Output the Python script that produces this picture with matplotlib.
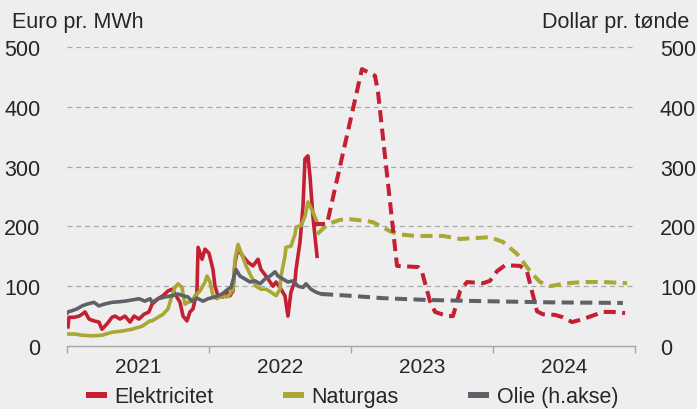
import matplotlib
matplotlib.use("Agg")
import matplotlib.pyplot as plt
import matplotlib.patches as mpatches
from matplotlib.legend_handler import HandlerBase
import numpy as np

# ---------------- data (time in decimal years) ----------------
el_t = [2021.007, 2021.014, 2021.049, 2021.085, 2021.106, 2021.127, 2021.155, 2021.190, 2021.225,
        2021.246, 2021.282, 2021.317, 2021.338, 2021.373, 2021.408, 2021.444, 2021.472, 2021.507,
        2021.542, 2021.577, 2021.599, 2021.641, 2021.676, 2021.711, 2021.739, 2021.761, 2021.796,
        2021.817, 2021.845, 2021.866, 2021.887, 2021.915, 2021.923, 2021.951, 2021.972, 2022.000,
        2022.028, 2022.042, 2022.063, 2022.099, 2022.127, 2022.148, 2022.169, 2022.183, 2022.204,
        2022.239, 2022.275, 2022.310, 2022.345, 2022.366, 2022.401, 2022.430, 2022.451, 2022.472,
        2022.507, 2022.535, 2022.556, 2022.577, 2022.606, 2022.613, 2022.641, 2022.662, 2022.676,
        2022.697, 2022.711, 2022.732, 2022.746, 2022.761]
el_v = [32, 48, 48, 50, 53, 57, 45, 42, 40,
        28, 37, 48, 50, 45, 50, 40, 50, 45,
        53, 57, 70, 79, 84, 92, 95, 87, 73,
        50, 42, 57, 62, 90, 165, 145, 162, 155,
        128, 100, 84, 82, 90, 84, 92, 140, 162,
        150, 140, 134, 145, 128, 117, 107, 100, 107,
        95, 84, 50, 90, 109, 128, 174, 234, 313,
        318, 284, 217, 184, 150]

gas_t = [2021.000, 2021.056, 2021.106, 2021.176, 2021.246, 2021.317, 2021.387, 2021.458, 2021.528,
         2021.585, 2021.599, 2021.641, 2021.676, 2021.711, 2021.739, 2021.761, 2021.782, 2021.810,
         2021.817, 2021.831, 2021.852, 2021.880, 2021.901, 2021.937, 2021.972, 2021.986, 2022.007,
         2022.028, 2022.056, 2022.092, 2022.127, 2022.148, 2022.169, 2022.183, 2022.204, 2022.225,
         2022.261, 2022.296, 2022.331, 2022.366, 2022.401, 2022.437, 2022.472, 2022.500, 2022.507,
         2022.535, 2022.542, 2022.577, 2022.606, 2022.613, 2022.648, 2022.676, 2022.697, 2022.732,
         2022.761]
gas_v = [20, 20, 18, 17, 18, 23, 25, 28, 33,
         42, 42, 48, 53, 62, 84, 98, 104, 98,
         87, 70, 73, 75, 84, 92, 107, 117, 107,
         84, 79, 84, 82, 87, 95, 145, 170, 157,
         134, 117, 100, 95, 95, 90, 84, 95, 117,
         150, 165, 167, 187, 199, 201, 217, 241, 224,
         207]

oil_t = [2021.000, 2021.007, 2021.035, 2021.070, 2021.106, 2021.141, 2021.190, 2021.225, 2021.261,
         2021.317, 2021.366, 2021.408, 2021.458, 2021.507, 2021.549, 2021.585, 2021.599, 2021.641,
         2021.690, 2021.739, 2021.782, 2021.817, 2021.852, 2021.880, 2021.915, 2021.958, 2021.993,
         2022.042, 2022.092, 2022.134, 2022.155, 2022.190, 2022.218, 2022.254, 2022.289, 2022.324,
         2022.359, 2022.394, 2022.430, 2022.465, 2022.486, 2022.521, 2022.556, 2022.592, 2022.627,
         2022.662, 2022.683, 2022.718, 2022.754, 2022.789]
oil_v = [55, 57, 59, 62, 67, 70, 73, 67, 70,
         73, 74, 75, 77, 79, 75, 79, 73, 79,
         82, 84, 87, 84, 82, 75, 80, 75, 79,
         82, 87, 95, 98, 128, 117, 112, 107, 109,
         104, 112, 117, 124, 117, 112, 107, 109, 100,
         98, 104, 95, 90, 87]

# futures / forecasts (dashed)
el_f_t = [2022.732, 2022.831, 2023.077, 2023.169, 2023.190, 2023.324, 2023.472, 2023.500, 2023.556,
          2023.592, 2023.676, 2023.718, 2023.768, 2023.817, 2023.930, 2023.979, 2024.028, 2024.085,
          2024.190, 2024.239, 2024.310, 2024.352, 2024.437, 2024.493, 2024.556, 2024.634, 2024.775,
          2024.845, 2024.930]
el_f_v = [204, 204, 463, 452, 425, 134, 132, 124, 75,
          57, 50, 50, 92, 107, 105, 109, 125, 135,
          134, 125, 58, 53, 52, 48, 40, 45, 57,
          57, 55]

gas_f_t = [2022.761, 2022.838, 2022.923, 2022.993, 2023.113, 2023.155, 2023.275, 2023.331, 2023.450,
           2023.648, 2023.768, 2023.979, 2024.070, 2024.169, 2024.261, 2024.331, 2024.401, 2024.521,
           2024.634, 2024.775, 2024.944]
gas_f_v = [187, 204, 211, 212, 209, 207, 192, 187, 184,
           184, 179, 182, 174, 154, 125, 107, 100, 105,
           107, 107, 105]

oil_f_t = [2022.789, 2022.993, 2023.225, 2023.535, 2023.930, 2024.401, 2024.915]
oil_f_v = [87, 84, 80, 77, 75, 73, 72]

years = [2021, 2022, 2023, 2024]
yticks = [0, 100, 200, 300, 400, 500]
legend_labels = ["Elektricitet", "Naturgas", "Olie (h.akse)"]

# ---------------- style ----------------
BG = "#EEEEEE"
RED = "#C41F33"
GREEN = "#A9A834"
GRAY = "#5E6168"
TXT = "#262626"
FS = 15.5

plt.rcParams["font.family"] = ["Liberation Sans", "DejaVu Sans"]


class BarHandler(HandlerBase):
    def create_artists(self, legend, orig_handle, xdescent, ydescent, width, height, fontsize, trans):
        h = 4.0
        y = height / 2.0 - ydescent - h / 2.0
        p = mpatches.Rectangle((-xdescent, y), width, h,
                               facecolor=orig_handle.get_facecolor(), edgecolor="none",
                               transform=trans)
        return [p]


fig = plt.figure(figsize=(6.97, 4.10), dpi=100, facecolor=BG)
ax = fig.add_axes([67 / 697, 1 - 347 / 410, (635 - 67) / 697, (347 - 48) / 410])
ax.set_facecolor(BG)
ax2 = ax.twinx()

dash = (0, (3.0, 1.6))
lw = 2.6
ax.plot(el_t, el_v, color=RED, lw=lw, solid_joinstyle="round", zorder=3)
ax.plot(gas_t, gas_v, color=GREEN, lw=lw, solid_joinstyle="round", zorder=3)
ax.plot(gas_f_t, gas_f_v, color=GREEN, lw=2.9, ls=dash, zorder=3)
ax.plot(el_f_t, el_f_v, color=RED, lw=2.9, ls=dash, zorder=4)
ax2.plot(oil_t, oil_v, color=GRAY, lw=lw, solid_joinstyle="round", zorder=3)
ax2.plot(oil_f_t, oil_f_v, color=GRAY, lw=2.9, ls=dash, zorder=3)

for a in (ax, ax2):
    a.set_ylim(0, 500)
    a.set_xlim(2021, 2025)
    for s in ["top", "left", "right", "bottom"]:
        a.spines[s].set_visible(False)

ax.spines["bottom"].set_visible(True)
ax.spines["bottom"].set_color("#A6A6A6")
ax.spines["bottom"].set_linewidth(1.0)

ax.set_yticks(yticks)
ax2.set_yticks(yticks)
ax.tick_params(axis="y", length=0, pad=19, labelsize=FS, labelcolor=TXT)
ax2.tick_params(axis="y", length=0, pad=18, labelsize=FS, labelcolor=TXT)

for v in yticks[1:]:
    ax.axhline(v, color="#A8A8A8", lw=0.9, ls=(0, (4, 3)), zorder=1)

ax.set_xticks(years + [2025])
ax.set_xticklabels([])
ax.set_xticks([y + 0.5 for y in years], minor=True)
ax.set_xticklabels([str(y) for y in years], minor=True)
ax.tick_params(axis="x", which="major", length=5, width=1.0, color="#A6A6A6", direction="out")
ax.tick_params(axis="x", which="minor", length=0, pad=8, labelsize=15, labelcolor=TXT)

fig.text(12 / 697, 1 - 28 / 410, "Euro pr. MWh", fontsize=FS, color=TXT, ha="left", va="baseline")
fig.text(689 / 697, 1 - 28 / 410, "Dollar pr. tønde", fontsize=FS, color=TXT, ha="right", va="baseline")

handles = [mpatches.Patch(facecolor=c, edgecolor="none") for c in (RED, GREEN, GRAY)]
fig.legend(handles, legend_labels, loc="center", bbox_to_anchor=(0.505, 1 - 398 / 410), ncol=3,
           frameon=False, fontsize=FS, handlelength=1.0, handletextpad=0.35,
           columnspacing=3.2, labelcolor=TXT,
           handler_map={mpatches.Patch: BarHandler()})

fig.savefig("out.png", dpi=100, facecolor=BG)
